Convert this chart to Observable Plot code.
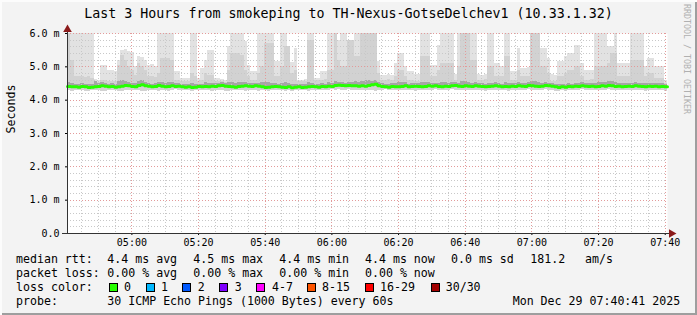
<!DOCTYPE html>
<html><head><meta charset="utf-8">
<script src="https://cdn.jsdelivr.net/npm/d3@7"></script>
<script src="https://cdn.jsdelivr.net/npm/@observablehq/plot@0.6"></script>
<style>
body{margin:0;background:#fff}
#c{position:relative;width:697px;height:315px;background:#f3f3f3;overflow:hidden;box-shadow:inset 2px 2px 0 #fcfcfc, inset -2px -2px 0 #9e9e9e;font-family:"DejaVu Sans Mono",monospace;color:#000}
.t{position:absolute;white-space:pre;font-size:11.6px;line-height:14px}
.b{position:absolute;width:9px;height:9px;box-sizing:border-box;border:1px solid #000}
#title{position:absolute;left:0;width:697px;top:5px;text-align:center;font-size:13.3px;line-height:18px;white-space:pre}
#wm{position:absolute;left:682px;top:4px;writing-mode:vertical-rl;font-size:8.3px;line-height:10px;color:#b0b0b0;white-space:pre}
#chart{position:absolute;left:0;top:20px}
</style></head>
<body>
<div id="c">
  <div id="title"></div>
  <div id="wm"></div>
  <div id="chart"></div>
</div>
<script>
const titleText = "Last 3 Hours from smokeping to TH-Nexus-GotseDelchev1 (10.33.1.32)";
const watermark = "RRDTOOL / TOBI OETIKER";
const yLabel = "Seconds";
const yTicks = [0, 1, 2, 3, 4, 5, 6];
const xTickLabels = ["05:00","05:20","05:40","06:00","06:20","06:40","07:00","07:20","07:40"];

// median rtt (ms) per minute column
const medRtt = [
4.41,4.40,4.40,4.39,4.41,4.40,4.38,4.39,4.40,4.41,4.43,4.42,4.40,4.41,4.39,4.40,4.42,4.44,4.43,4.41,
4.40,4.44,4.46,4.43,4.42,4.40,4.41,4.44,4.42,4.40,4.41,4.43,4.41,4.42,4.40,4.39,4.40,4.38,4.39,4.41,
4.40,4.41,4.40,4.42,4.41,4.43,4.44,4.42,4.41,4.40,4.39,4.41,4.42,4.43,4.42,4.41,4.43,4.42,4.40,4.38,
4.39,4.40,4.41,4.40,4.39,4.38,4.40,4.37,4.39,4.40,4.38,4.39,4.40,4.41,4.40,4.39,4.41,4.40,4.42,4.41,
4.44,4.45,4.44,4.43,4.44,4.43,4.43,4.42,4.43,4.42,4.44,4.46,4.48,4.43,4.41,4.40,4.39,4.41,4.40,4.40,
4.41,4.43,4.40,4.41,4.42,4.41,4.40,4.41,4.43,4.42,4.43,4.41,4.40,4.42,4.41,4.43,4.44,4.42,4.41,4.43,
4.42,4.41,4.43,4.42,4.41,4.40,4.41,4.42,4.43,4.42,4.40,4.41,4.40,4.42,4.41,4.43,4.42,4.41,4.44,4.43,
4.42,4.41,4.42,4.44,4.43,4.42,4.40,4.38,4.40,4.39,4.41,4.40,4.42,4.41,4.43,4.42,4.41,4.42,4.40,4.41,
4.43,4.42,4.44,4.43,4.41,4.42,4.40,4.41,4.42,4.41,4.43,4.42,4.41,4.40,4.42,4.41,4.42,4.40,4.41,4.40];

// highest ping (top of the light smoke), ms
const maxPing = [
6.0,6.0,6.0,6.0,6.0,6.0,6.0,6.0,4.62,4.58,
5.05,5.04,4.88,4.90,4.85,5.20,5.50,5.52,5.45,5.42,
5.00,5.30,5.28,5.18,5.05,5.06,5.00,6.0,6.0,6.0,
6.0,6.0,4.85,4.86,4.65,4.64,4.66,6.0,6.0,4.65,
4.95,5.20,5.50,5.50,4.65,4.66,4.62,4.60,5.60,6.0,
6.0,6.0,6.0,5.76,5.05,4.86,4.85,6.0,6.0,6.0,
6.0,6.0,5.15,5.16,6.0,6.0,5.15,5.14,5.55,4.60,
4.60,4.62,6.0,6.0,4.65,4.66,4.85,4.86,6.0,6.0,
5.76,5.78,6.0,6.0,5.76,5.75,6.0,6.0,6.0,6.0,
6.0,6.0,6.0,5.15,4.75,4.75,4.76,4.74,5.10,5.40,
5.40,5.00,4.86,4.86,4.76,4.76,6.0,6.0,6.0,5.05,
5.05,5.65,6.0,6.0,6.0,6.0,4.76,6.0,6.0,6.0,
6.0,6.0,6.0,4.76,4.75,4.77,6.0,6.0,5.11,5.10,
5.00,6.0,6.0,4.86,4.85,5.56,4.96,4.95,4.97,6.0,
6.0,5.26,5.56,5.55,5.25,4.76,4.75,5.16,5.15,5.30,
5.40,5.40,5.65,5.64,5.10,4.90,4.90,4.88,6.0,6.0,
6.0,6.0,5.60,5.60,6.0,5.10,5.10,5.10,5.10,6.0,
6.0,6.0,6.0,5.00,5.25,5.25,5.00,5.00,5.00,4.60];

// upper edge of the medium smoke, ms
const midPing = [
6.0,5.20,4.70,4.70,4.72,4.68,4.70,4.66,4.52,4.52,
4.60,4.60,4.55,4.56,4.55,5.05,5.35,5.20,5.00,4.90,
4.75,5.10,5.00,4.90,4.70,4.70,4.68,4.80,5.25,5.25,
5.25,5.20,4.60,4.60,4.55,4.55,4.56,4.80,4.70,4.55,
4.60,4.80,4.75,4.75,4.55,4.55,4.56,4.54,4.90,5.40,
5.40,5.40,5.35,4.90,4.70,4.60,4.60,4.80,5.00,5.70,
5.70,5.70,4.70,4.70,5.00,5.60,5.60,4.80,4.90,4.55,
4.55,4.56,5.80,5.80,4.60,4.60,4.60,4.62,4.90,4.90,
6.0,5.20,5.00,5.00,5.80,5.80,5.30,5.30,6.0,6.0,
6.0,6.0,6.0,4.80,4.60,4.60,4.62,4.60,4.70,4.90,
4.90,4.70,4.60,4.60,4.55,4.56,5.30,5.30,5.30,4.70,
4.70,4.90,5.10,5.10,5.10,5.10,4.60,5.00,6.0,6.0,
6.0,5.20,5.20,4.60,4.60,4.62,5.00,5.00,4.70,4.70,
4.70,5.30,5.30,4.60,4.60,4.90,4.70,4.70,4.70,6.0,
6.0,6.0,5.00,5.00,4.80,4.55,4.56,4.70,4.70,4.80,
4.90,4.90,5.00,5.00,4.70,4.60,4.60,4.62,5.00,5.00,
5.00,5.00,5.10,5.40,5.40,4.70,4.70,4.70,4.70,5.20,
5.20,5.20,5.20,4.70,4.80,4.80,4.65,4.65,4.65,4.50];

// upper edge of the dark smoke around the median, ms
const darkPing = [
4.52,4.50,4.48,4.47,4.49,4.48,4.46,4.47,4.55,4.50,
4.52,4.50,4.48,4.49,4.47,4.55,4.58,4.56,4.52,4.50,
4.50,4.56,4.58,4.52,4.50,4.48,4.49,4.54,4.52,4.50,
4.52,4.54,4.49,4.50,4.47,4.46,4.47,4.50,4.48,4.48,
4.48,4.52,4.50,4.51,4.49,4.50,4.53,4.50,4.52,4.54,
4.50,4.52,4.53,4.52,4.50,4.49,4.51,4.50,4.52,4.54,
4.54,4.50,4.49,4.48,4.50,4.52,4.50,4.46,4.48,4.47,
4.46,4.47,4.52,4.50,4.48,4.47,4.49,4.48,4.52,4.50,
4.55,4.54,4.53,4.51,4.54,4.53,4.55,4.52,4.56,4.58,
4.58,4.56,4.60,4.52,4.50,4.48,4.47,4.49,4.49,4.52,
4.52,4.52,4.48,4.49,4.50,4.49,4.52,4.53,4.54,4.50,
4.51,4.50,4.52,4.53,4.50,4.52,4.53,4.51,4.55,4.55,
4.54,4.50,4.52,4.50,4.49,4.48,4.50,4.51,4.52,4.50,
4.48,4.52,4.50,4.50,4.49,4.52,4.50,4.49,4.53,4.56,
4.56,4.54,4.50,4.52,4.51,4.50,4.48,4.47,4.48,4.47,
4.49,4.48,4.51,4.50,4.52,4.50,4.49,4.50,4.50,4.52,
4.53,4.52,4.55,4.56,4.52,4.51,4.49,4.50,4.51,4.50,
4.52,4.51,4.50,4.49,4.51,4.50,4.50,4.49,4.50,4.48];

// lowest ping (bottom of the smoke), ms
const minPing = [
4.28,4.27,4.29,4.28,4.30,4.27,4.26,4.28,4.30,4.29,
4.27,4.26,4.28,4.30,4.29,4.27,4.25,4.28,4.29,4.30,
4.28,4.29,4.27,4.26,4.30,4.29,4.28,4.27,4.30,4.28,
4.27,4.29,4.31,4.30,4.28,4.29,4.30,4.27,4.28,4.30,
4.29,4.28,4.30,4.27,4.29,4.30,4.28,4.27,4.26,4.28,
4.29,4.30,4.28,4.27,4.29,4.30,4.28,4.27,4.29,4.28,
4.27,4.29,4.30,4.28,4.29,4.27,4.28,4.26,4.29,4.30,
4.28,4.29,4.27,4.28,4.30,4.29,4.28,4.30,4.29,4.31,
4.30,4.31,4.29,4.30,4.31,4.29,4.30,4.28,4.30,4.29,
4.28,4.30,4.27,4.29,4.30,4.31,4.28,4.29,4.30,4.28,
4.29,4.30,4.28,4.29,4.27,4.30,4.29,4.28,4.30,4.29,
4.31,4.29,4.28,4.30,4.29,4.31,4.30,4.28,4.29,4.30,
4.29,4.28,4.30,4.29,4.28,4.27,4.29,4.30,4.28,4.29,
4.28,4.29,4.27,4.30,4.29,4.30,4.28,4.29,4.31,4.30,
4.29,4.28,4.30,4.31,4.29,4.28,4.27,4.26,4.28,4.27,
4.29,4.28,4.30,4.29,4.31,4.30,4.28,4.29,4.28,4.30,
4.30,4.29,4.31,4.30,4.28,4.29,4.28,4.30,4.29,4.28,
4.30,4.29,4.28,4.27,4.29,4.30,4.29,4.28,4.29,4.27];

const rttLabel = "median rtt:";
const rttStats = ["4.4 ms avg","4.5 ms max","4.4 ms min","4.4 ms now","0.0 ms sd"];
const rttExtra = ["181.2", "am/s"];
const lossLabel = "packet loss:";
const lossStats = ["0.00 % avg","0.00 % max","0.00 % min","0.00 % now"];
const colorLabel = "loss color:";
const lossNames = ["0","1","2","3","4-7","8-15","16-29","30/30"];
const lossColors = ["#26ff00","#00b8ff","#0059ff","#7e00ff","#ff00ff","#ff5500","#ff0000","#a10000"];
const probeLabel = "probe:";
const probeText = "30 ICMP Echo Pings (1000 Bytes) every 60s";
const stampText = "Mon Dec 29 07:40:41 2025";

// ---------- page text ----------
document.getElementById("title").textContent = titleText;
document.getElementById("wm").textContent = watermark;
const C = document.getElementById("c");
function txt(s, x, yc){const e=document.createElement("div");e.className="t";e.textContent=s;e.style.left=x+"px";e.style.top=(yc-7)+"px";C.append(e);}
function box(col, x, y){const e=document.createElement("div");e.className="b";e.style.background=col;e.style.left=x+"px";e.style.top=y+"px";C.append(e);}
const statX = [107.3,193.3,279.3,365,451];
txt(rttLabel,16,259); rttStats.forEach((s,i)=>txt(s,statX[i],259));
txt(rttExtra[0],530.3,259); txt(rttExtra[1],585,259);
txt(lossLabel,16,273); lossStats.forEach((s,i)=>txt(s,statX[i],273));
txt(colorLabel,16,287);
const boxX=[108.5,145.5,182.3,219.3,256.3,307.3,365.3,430.7];
const nameX=[124,161,197.7,234.7,272,322,380,445.7];
lossNames.forEach((n,i)=>{box(lossColors[i],boxX[i],282.5);txt(n,nameX[i],287);});
txt(probeLabel,16,301); txt(probeText,107.3,301); txt(stampText,512.7,301);

// ---------- chart ----------
const MIN = 60000;
const t0 = Date.UTC(2025,11,29,4,40,41);
const t1 = t0 + 180*MIN;
const cols = medRtt.map((m,i)=>({x1:new Date(t0+i*MIN), x2:new Date(t0+(i+1)*MIN), med:m, top:maxPing[i], hi:midPing[i], dk:darkPing[i], lo:minPing[i]}));
const linePts = cols.map(d=>({x:d.x1,y:d.med})).concat([{x:cols[cols.length-1].x2,y:medRtt[medRtt.length-1]}]);

const base = Date.UTC(2025,11,29,4,40,0);
const minorX=[], majorX=[];
for(let t=base; t<=t1; t+=5*MIN){ if(t<t0) continue; const mm=new Date(t).getUTCMinutes(); (mm%20===0?majorX:minorX).push(new Date(t)); }
const xTicks = xTickLabels.map(s=>{const [h,m]=s.split(":").map(Number);return new Date(Date.UTC(2025,11,29,h,m));});
const minorY=[], majorY=yTicks;
for(let k=1;k<30;k++){ if(k%5) minorY.push(k/5); }

const chart = Plot.plot({
  width: 697, height: 230,
  marginTop: 13, marginBottom: 17, marginLeft: 67, marginRight: 30,
  style: {background:"transparent", fontFamily:"DejaVu Sans Mono", fontSize:"10px", color:"#000", overflow:"visible"},
  x: {type:"utc", domain:[new Date(t0), new Date(t1)]},
  y: {domain:[0,6]},
  marks: [
    Plot.frame({fill:"#fff", stroke:null}),
    Plot.rect(cols, {x1:"x1", x2:"x2", y1:"lo", y2:"top", fill:"#e2e2e2", clip:true, shapeRendering:"crispEdges"}),
    Plot.rect(cols, {x1:"x1", x2:"x2", y1:"lo", y2:"hi", fill:"#d2d2d2", clip:true, shapeRendering:"crispEdges"}),
    Plot.rect(cols, {x1:"x1", x2:"x2", y1:"med", y2:"dk", fill:"#a6a6a6", clip:true, shapeRendering:"crispEdges"}),
    Plot.ruleY(minorY, {stroke:"#c8c8c8", strokeDasharray:"1,2", shapeRendering:"crispEdges"}),
    Plot.ruleX(minorX, {stroke:"#c8c8c8", strokeDasharray:"1,2", shapeRendering:"crispEdges"}),
    Plot.ruleY(majorY.filter(v=>v>0), {stroke:"#e39a9a", strokeDasharray:"1,2", shapeRendering:"crispEdges"}),
    Plot.ruleX(majorX, {stroke:"#e39a9a", strokeDasharray:"1,2", shapeRendering:"crispEdges"}),
    Plot.line(linePts, {x:"x", y:"y", curve:"step-after", stroke:lossColors[0], strokeWidth:3, strokeLinejoin:"miter"}),
    Plot.axisY({ticks: yTicks, tickFormat: d => d===0 ? "0.0" : d.toFixed(1)+" m", tickSize:2, tickPadding:6, label:null}),
    Plot.axisX({ticks: xTicks, tickFormat: d3.utcFormat("%H:%M"), tickSize:2, tickPadding:3, label:null}),
    Plot.ruleY([0], {x1:new Date(t0-1.5*MIN), x2:new Date(t1+1.2*MIN), stroke:"#333", shapeRendering:"crispEdges"}),
    Plot.ruleX([new Date(t0)], {y1:0, y2:6.12, stroke:"#333", shapeRendering:"crispEdges"}),
    Plot.dot([{x:new Date(t0), y:6.12}], {x:"x", y:"y", symbol:"triangle", r:3.2, fill:"#8b1a1a", stroke:null}),
    Plot.dot([{x:new Date(t1+1.2*MIN), y:0}], {x:"x", y:"y", symbol:"triangle", r:3.2, rotate:90, fill:"#8b1a1a", stroke:null}),
    Plot.text([yLabel], {frameAnchor:"left", dx:-56, rotate:-90, fontSize:11.6, fill:"#000"})
  ]
});
document.getElementById("chart").append(chart);
</script>
</body></html>
